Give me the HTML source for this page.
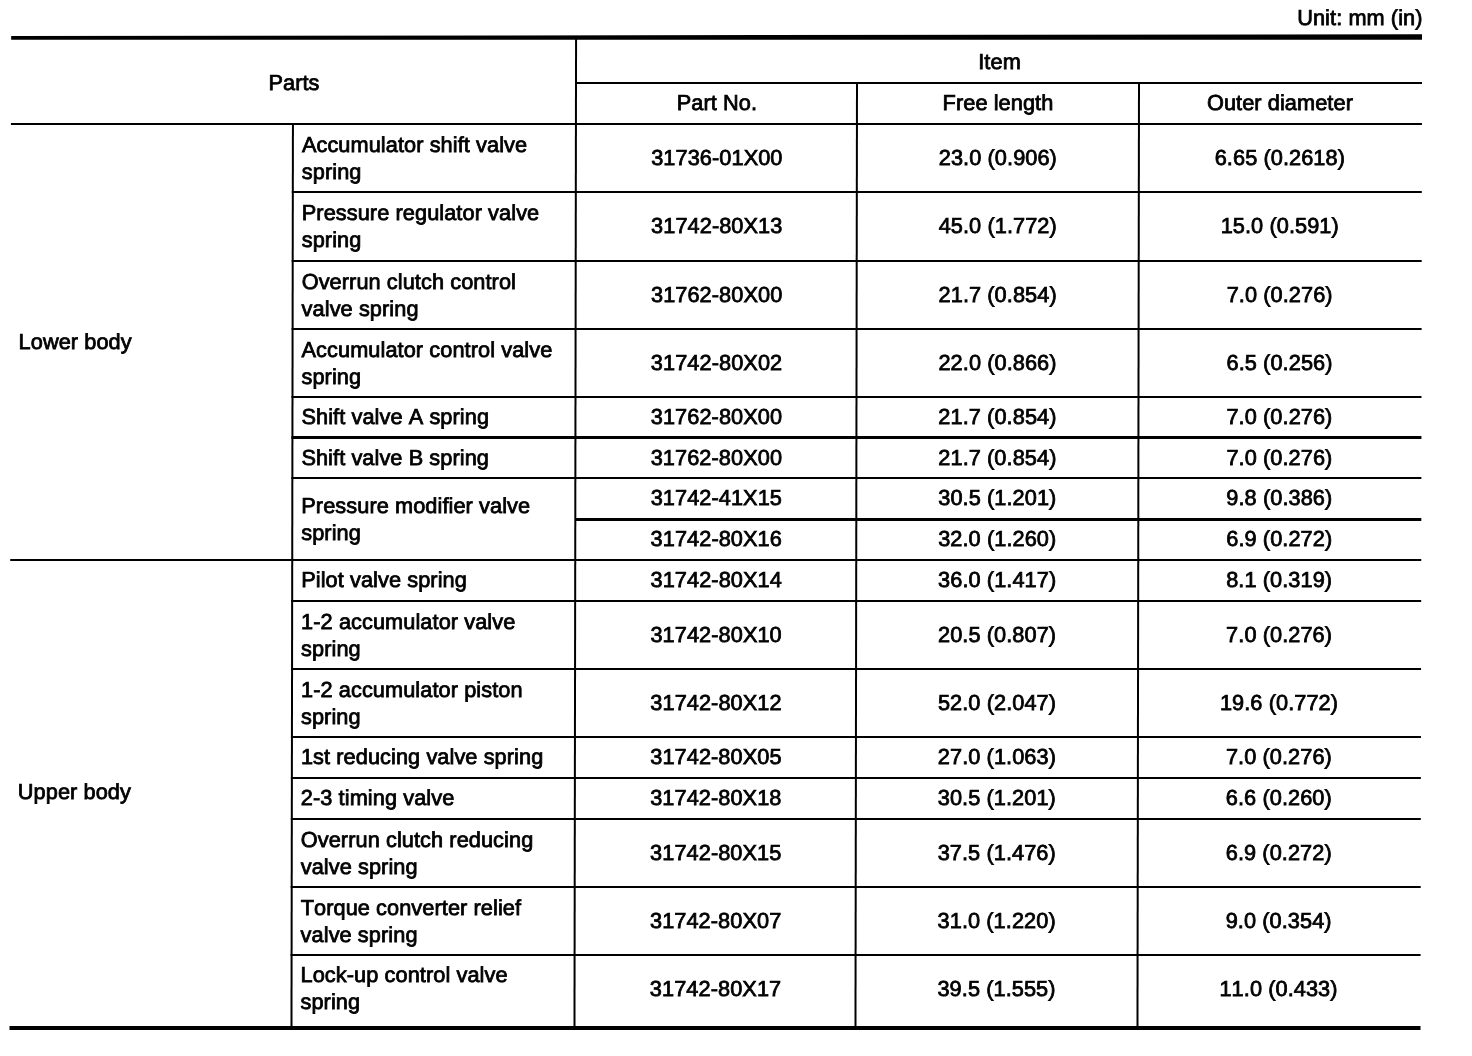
<!DOCTYPE html>
<html><head><meta charset="utf-8"><title>Spring specifications</title>
<style>
html,body{margin:0;padding:0;background:#fff;}
body{width:1472px;height:1056px;position:relative;overflow:hidden;
font-family:"Liberation Sans",Arial,Helvetica,sans-serif;font-size:21.7px;line-height:27px;color:#000;}
.h,.v{position:absolute;background:#000;}
.t{position:absolute;white-space:nowrap;height:27px;-webkit-text-stroke:0.8px #000;font-kerning:none;letter-spacing:0.1px;}
.c{text-align:center;}
.r{text-align:right;}
#pg{position:absolute;left:0;top:0;width:1472px;height:1056px;transform:skewX(-0.092deg);transform-origin:0 80px;filter:grayscale(1);}
.top{position:absolute;left:11px;top:34px;width:1411px;height:6px;background:#000;clip-path:polygon(0 2px,100% 0.3px,100% 5.7px,0 5.7px);}
</style></head><body><div id="pg">
<div class="top"></div>

<div class="h" style="left:576px;top:82px;width:846px;height:2px"></div>
<div class="h" style="left:11px;top:123px;width:1411px;height:2px"></div>
<div class="h" style="left:292px;top:191px;width:1130px;height:2px"></div>
<div class="h" style="left:292px;top:260px;width:1130px;height:2px"></div>
<div class="h" style="left:292px;top:328px;width:1130px;height:2px"></div>
<div class="h" style="left:292px;top:396px;width:1130px;height:2px"></div>
<div class="h" style="left:292px;top:436px;width:1130px;height:3px"></div>
<div class="h" style="left:292px;top:477px;width:1130px;height:2px"></div>
<div class="h" style="left:11px;top:559px;width:1411px;height:2px"></div>
<div class="h" style="left:292px;top:600px;width:1130px;height:2px"></div>
<div class="h" style="left:292px;top:668px;width:1130px;height:2px"></div>
<div class="h" style="left:292px;top:736px;width:1130px;height:2px"></div>
<div class="h" style="left:292px;top:777px;width:1130px;height:2px"></div>
<div class="h" style="left:292px;top:818px;width:1130px;height:2px"></div>
<div class="h" style="left:292px;top:886px;width:1130px;height:2px"></div>
<div class="h" style="left:292px;top:954px;width:1130px;height:2px"></div>
<div class="h" style="left:576px;top:518px;width:846px;height:2.6px"></div>
<div class="h" style="left:11px;top:1026px;width:1410.5px;height:4px"></div>
<div class="v" style="left:575px;top:38px;width:2px;height:990px"></div>
<div class="v" style="left:292px;top:124px;width:2px;height:904px"></div>
<div class="v" style="left:856px;top:82px;width:2px;height:946px"></div>
<div class="v" style="left:1138px;top:82px;width:2px;height:946px"></div>
<div class="t r" style="left:1122.5px;top:3.5px;width:300px">Unit: mm (in)</div>
<div class="t c" style="left:154px;top:69px;width:280px">Parts</div>
<div class="t c" style="left:859.5px;top:48px;width:280px">Item</div>
<div class="t c" style="left:577px;top:89px;width:280px">Part No.</div>
<div class="t c" style="left:858px;top:89px;width:280px">Free length</div>
<div class="t c" style="left:1140px;top:89px;width:280px">Outer diameter</div>
<div class="t" style="left:19px;top:328px">Lower body</div>
<div class="t" style="left:19px;top:778px">Upper body</div>
<div class="t" style="left:302px;top:130.5px">Accumulator shift valve</div>
<div class="t" style="left:302px;top:157.5px">spring</div>
<div class="t c" style="left:577px;top:143.5px;width:280px">31736-01X00</div>
<div class="t c" style="left:858px;top:143.5px;width:280px">23.0 (0.906)</div>
<div class="t c" style="left:1140px;top:143.5px;width:280px">6.65 (0.2618)</div>
<div class="t" style="left:302px;top:199px">Pressure regulator valve</div>
<div class="t" style="left:302px;top:226px">spring</div>
<div class="t c" style="left:577px;top:212px;width:280px">31742-80X13</div>
<div class="t c" style="left:858px;top:212px;width:280px">45.0 (1.772)</div>
<div class="t c" style="left:1140px;top:212px;width:280px">15.0 (0.591)</div>
<div class="t" style="left:302px;top:267.5px">Overrun clutch control</div>
<div class="t" style="left:302px;top:294.5px">valve spring</div>
<div class="t c" style="left:577px;top:280.5px;width:280px">31762-80X00</div>
<div class="t c" style="left:858px;top:280.5px;width:280px">21.7 (0.854)</div>
<div class="t c" style="left:1140px;top:280.5px;width:280px">7.0 (0.276)</div>
<div class="t" style="left:302px;top:335.5px">Accumulator control valve</div>
<div class="t" style="left:302px;top:362.5px">spring</div>
<div class="t c" style="left:577px;top:348.5px;width:280px">31742-80X02</div>
<div class="t c" style="left:858px;top:348.5px;width:280px">22.0 (0.866)</div>
<div class="t c" style="left:1140px;top:348.5px;width:280px">6.5 (0.256)</div>
<div class="t" style="left:302px;top:403px">Shift valve A spring</div>
<div class="t c" style="left:577px;top:403px;width:280px">31762-80X00</div>
<div class="t c" style="left:858px;top:403px;width:280px">21.7 (0.854)</div>
<div class="t c" style="left:1140px;top:403px;width:280px">7.0 (0.276)</div>
<div class="t" style="left:302px;top:443.5px">Shift valve B spring</div>
<div class="t c" style="left:577px;top:443.5px;width:280px">31762-80X00</div>
<div class="t c" style="left:858px;top:443.5px;width:280px">21.7 (0.854)</div>
<div class="t c" style="left:1140px;top:443.5px;width:280px">7.0 (0.276)</div>
<div class="t" style="left:302px;top:491.5px">Pressure modifier valve</div>
<div class="t" style="left:302px;top:518.5px">spring</div>
<div class="t" style="left:302px;top:566px">Pilot valve spring</div>
<div class="t c" style="left:577px;top:566px;width:280px">31742-80X14</div>
<div class="t c" style="left:858px;top:566px;width:280px">36.0 (1.417)</div>
<div class="t c" style="left:1140px;top:566px;width:280px">8.1 (0.319)</div>
<div class="t" style="left:302px;top:607.5px">1-2 accumulator valve</div>
<div class="t" style="left:302px;top:634.5px">spring</div>
<div class="t c" style="left:577px;top:620.5px;width:280px">31742-80X10</div>
<div class="t c" style="left:858px;top:620.5px;width:280px">20.5 (0.807)</div>
<div class="t c" style="left:1140px;top:620.5px;width:280px">7.0 (0.276)</div>
<div class="t" style="left:302px;top:675.5px">1-2 accumulator piston</div>
<div class="t" style="left:302px;top:702.5px">spring</div>
<div class="t c" style="left:577px;top:688.5px;width:280px">31742-80X12</div>
<div class="t c" style="left:858px;top:688.5px;width:280px">52.0 (2.047)</div>
<div class="t c" style="left:1140px;top:688.5px;width:280px">19.6 (0.772)</div>
<div class="t" style="left:302px;top:743px">1st reducing valve spring</div>
<div class="t c" style="left:577px;top:743px;width:280px">31742-80X05</div>
<div class="t c" style="left:858px;top:743px;width:280px">27.0 (1.063)</div>
<div class="t c" style="left:1140px;top:743px;width:280px">7.0 (0.276)</div>
<div class="t" style="left:302px;top:784px">2-3 timing valve</div>
<div class="t c" style="left:577px;top:784px;width:280px">31742-80X18</div>
<div class="t c" style="left:858px;top:784px;width:280px">30.5 (1.201)</div>
<div class="t c" style="left:1140px;top:784px;width:280px">6.6 (0.260)</div>
<div class="t" style="left:302px;top:825.5px">Overrun clutch reducing</div>
<div class="t" style="left:302px;top:852.5px">valve spring</div>
<div class="t c" style="left:577px;top:838.5px;width:280px">31742-80X15</div>
<div class="t c" style="left:858px;top:838.5px;width:280px">37.5 (1.476)</div>
<div class="t c" style="left:1140px;top:838.5px;width:280px">6.9 (0.272)</div>
<div class="t" style="left:302px;top:893.5px">Torque converter relief</div>
<div class="t" style="left:302px;top:920.5px">valve spring</div>
<div class="t c" style="left:577px;top:906.5px;width:280px">31742-80X07</div>
<div class="t c" style="left:858px;top:906.5px;width:280px">31.0 (1.220)</div>
<div class="t c" style="left:1140px;top:906.5px;width:280px">9.0 (0.354)</div>
<div class="t" style="left:302px;top:960.5px">Lock-up control valve</div>
<div class="t" style="left:302px;top:987.5px">spring</div>
<div class="t c" style="left:577px;top:974.5px;width:280px">31742-80X17</div>
<div class="t c" style="left:858px;top:974.5px;width:280px">39.5 (1.555)</div>
<div class="t c" style="left:1140px;top:974.5px;width:280px">11.0 (0.433)</div>
<div class="t c" style="left:577px;top:484px;width:280px">31742-41X15</div>
<div class="t c" style="left:858px;top:484px;width:280px">30.5 (1.201)</div>
<div class="t c" style="left:1140px;top:484px;width:280px">9.8 (0.386)</div>
<div class="t c" style="left:577px;top:525px;width:280px">31742-80X16</div>
<div class="t c" style="left:858px;top:525px;width:280px">32.0 (1.260)</div>
<div class="t c" style="left:1140px;top:525px;width:280px">6.9 (0.272)</div>
</div></body></html>
